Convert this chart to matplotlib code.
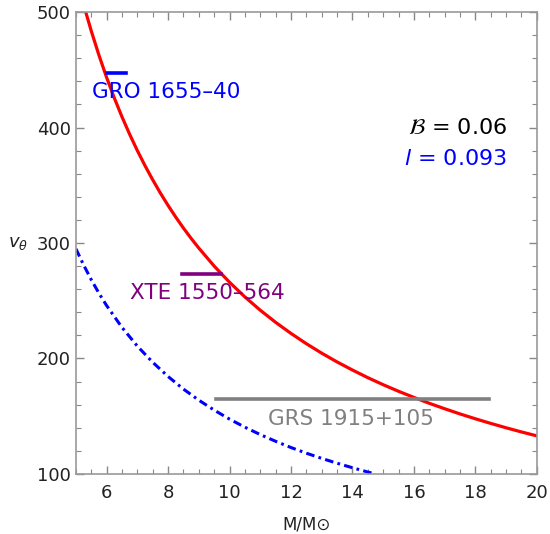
import matplotlib
matplotlib.use("Agg")
import matplotlib.pyplot as plt
from matplotlib.ticker import MultipleLocator

# red curve: v_theta vs M
mass_red = [5.32, 5.5, 5.75, 6.0, 6.25, 6.5, 6.75, 7.0, 7.25, 7.5, 7.75, 8.0,
            8.25, 8.5, 8.75, 9.0, 9.5, 10.0, 10.5, 11.0, 11.5, 12.0, 12.5,
            13.0, 13.5, 14.0, 14.5, 15.0, 15.5, 16.0, 16.5, 17.0, 17.5,
            18.0, 18.5, 19.0, 19.5, 20.0]
v_red = [500.0, 483.6, 462.6, 443.3, 425.6, 409.2, 394.1, 380.0, 366.9,
         354.7, 343.2, 332.5, 322.4, 312.9, 304.0, 295.6, 280.0, 266.0,
         253.3, 241.8, 231.3, 221.7, 212.8, 204.6, 197.0, 190.0, 183.4,
         177.3, 171.6, 166.3, 161.2, 156.5, 152.0, 147.8, 143.8, 140.0,
         136.4, 133.0]

# blue dash-dot curve
mass_blue = [5.0, 5.25, 5.5, 5.75, 6.0, 6.5, 7.0, 7.5, 8.0, 8.5, 9.0, 9.5,
             10.0, 10.5, 11.0, 11.5, 12.0, 12.5, 13.0, 13.5, 14.0, 14.5, 14.75]
v_blue = [295.0, 281.0, 268.2, 256.5, 245.8, 226.9, 210.7, 196.7, 184.4,
          173.5, 163.9, 155.3, 147.5, 140.5, 134.1, 128.3, 122.9, 118.0,
          113.5, 109.3, 105.4, 101.7, 100.0]

# observed sources: mass range and velocity
sources = ["GRO 1655\u201340", "XTE 1550\u2013564", "GRS 1915+105"]
src_mmin = [6.0, 8.46, 9.57]
src_mmax = [6.62, 9.73, 18.44]
src_v = [447, 273, 165]
src_colors = ["#0000ff", "#800080", "#808080"]
label_pos = [(7.95, 431), (9.27, 257), (13.96, 148)]

fig = plt.figure(figsize=(5.5, 5.34), dpi=100)
ax = fig.add_axes([0.138, 0.1124, 0.838, 0.8651])

ax.plot(mass_red, v_red, color="#ff0000", lw=2.3, solid_joinstyle="round")
ax.plot(mass_blue, v_blue, color="#0000ff", lw=2.2,
        linestyle=(0, (2.8, 1.4, 0.9, 1.4)))

for name, m0, m1, v, c, pos in zip(sources, src_mmin, src_mmax, src_v,
                                   src_colors, label_pos):
    ax.plot([m0, m1], [v, v], color=c, lw=2.6)
    ax.text(pos[0], pos[1], name, color=c, fontsize=15.5,
            ha="center", va="center")

ax.text(19.03, 400, r"$\mathcal{B}$ = 0.06", color="black", fontsize=16,
        ha="right", va="center")
ax.text(19.03, 373, r"$l$ = 0.093", color="#0000ff", fontsize=16,
        ha="right", va="center")

ax.set_xlim(5, 20)
ax.set_ylim(100, 500)
ax.xaxis.set_major_locator(MultipleLocator(2))
ax.xaxis.set_minor_locator(MultipleLocator(0.5))
ax.yaxis.set_major_locator(MultipleLocator(100))
ax.yaxis.set_minor_locator(MultipleLocator(20))
ax.tick_params(which="both", direction="in", top=True, right=True,
               color="#888888", labelsize=13, labelcolor="#222222")
ax.tick_params(which="major", length=6, width=1)
ax.tick_params(which="minor", length=3.5, width=0.8)
ax.tick_params(axis="x", pad=7)
for s in ax.spines.values():
    s.set_color("#999999")
    s.set_linewidth(1.2)

ax.set_xlabel("M/M\u2299", fontsize=12, color="#222222", labelpad=10)
fig.text(0.033, 1 - 243 / 534, r"$v_\theta$", fontsize=13, color="#222222",
         ha="center", va="center")

fig.savefig("out.png", dpi=100)
